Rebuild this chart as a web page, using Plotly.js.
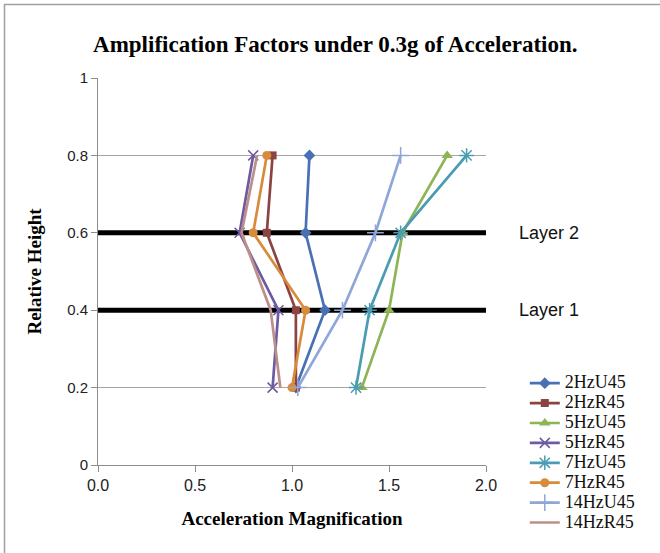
<!DOCTYPE html>
<html>
<head>
<meta charset="utf-8">
<script src="https://cdn.plot.ly/plotly-3.0.1.min.js"></script>
<style>
  html, body { margin: 0; padding: 0; background: #fff; }
  #chart { width: 660px; height: 553px; }
</style>
</head>
<body>
<div id="chart"></div>
<script>
// Relative height levels where the response was measured
const heights = [0.2, 0.4, 0.6, 0.8];

// Acceleration magnification per test case, one value per height level
const hz2U45  = [1.02, 1.17, 1.07, 1.09];
const hz2R45  = [1.02, 1.02, 0.87, 0.90];
const hz5U45  = [1.36, 1.50, 1.57, 1.80];
const hz5R45  = [0.90, 0.93, 0.73, 0.80];
const hz7U45  = [1.33, 1.40, 1.56, 1.90];
const hz7R45  = [1.00, 1.07, 0.80, 0.87];
const hz14U45 = [1.03, 1.26, 1.43, 1.56];
const hz14R45 = [0.94, 0.89, 0.74, 0.82];

const seriesNames = ['2HzU45', '2HzR45', '5HzU45', '5HzR45', '7HzU45', '7HzR45', '14HzU45', '14HzR45'];
const seriesValues = [hz2U45, hz2R45, hz5U45, hz5R45, hz7U45, hz7R45, hz14U45, hz14R45];

// Layer boundaries
const layerHeights = [0.4, 0.6];
const layerNames = ['Layer 1', 'Layer 2'];
const xSpan = [0, 2];

// Axis tick labels
const yTickVals = [0, 0.2, 0.4, 0.6, 0.8, 1];
const yTickText = ['0', '0.2', '0.4', '0.6', '0.8', '1'];
const xTickVals = [0, 0.5, 1, 1.5, 2];
const xTickText = ['0.0', '0.5', '1.0', '1.5', '2.0'];

const colors = ['#4a70b4', '#8c4442', '#8db455', '#6e5aa0', '#4b9cb3', '#d98b3c', '#8ea6d8', '#bc8f8b'];
const symbols = ['diamond', 'square', 'triangle-up', 'x-thin-open', 'asterisk-open', 'circle', 'cross-thin-open', 'circle'];
const sizes = [9, 8, 10, 10, 12, 9, 12, 0];

const serif = 'Liberation Serif, Times New Roman, serif';
const sans = 'Liberation Sans, Arial, sans-serif';

const traces = [];

// Thick black layer boundary lines, drawn beneath the series
layerHeights.forEach(h => {
  traces.push({
    x: xSpan, y: [h, h],
    mode: 'lines', line: { color: '#000', width: 5 },
    showlegend: false, hoverinfo: 'skip'
  });
});

seriesNames.forEach((name, i) => {
  const thin = symbols[i].indexOf('open') >= 0;
  traces.push({
    x: seriesValues[i], y: heights,
    // larger legend text while keeping the compact row spacing
    name: '<span style="font-size:18px">' + name + '</span>',
    mode: sizes[i] > 0 ? 'lines+markers' : 'lines',
    line: { color: colors[i], width: 2.7 },
    marker: {
      symbol: symbols[i], size: sizes[i], color: colors[i],
      line: { color: colors[i], width: thin ? 1.5 : 0 }
    }
  });
});

const annotations = layerNames.map((t, i) => ({
  text: t, xref: 'paper', yref: 'y', x: 1.08, y: layerHeights[i],
  xanchor: 'left', yanchor: 'middle', showarrow: false,
  font: { family: sans, size: 18, color: '#111' }
}));

const layout = {
  width: 660, height: 553,
  margin: { l: 98, r: 174, t: 78, b: 88, autoexpand: false },
  paper_bgcolor: '#fff', plot_bgcolor: '#fff',
  title: {
    text: '<b>Amplification Factors under 0.3g of Acceleration.</b>',
    xref: 'container', yref: 'container', x: 0.508, y: 1 - 44 / 553,
    xanchor: 'center', yanchor: 'middle',
    font: { family: serif, size: 23, color: '#000' }
  },
  xaxis: {
    range: xSpan, tickvals: xTickVals, ticktext: xTickText,
    showgrid: false, zeroline: false, showline: true, linecolor: '#8c8c8c', linewidth: 1,
    ticks: 'outside', ticklen: 6, tickwidth: 1, tickcolor: '#8c8c8c',
    tickfont: { family: sans, size: 16, color: '#222' },
    title: { text: '<b>Acceleration Magnification</b>', standoff: 18,
      font: { family: serif, size: 19, color: '#000' } }
  },
  yaxis: {
    range: [0, 1], tickvals: yTickVals, ticktext: yTickText,
    showgrid: true, gridcolor: '#a6a6a6', gridwidth: 1,
    zeroline: false, showline: true, linecolor: '#8c8c8c', linewidth: 1,
    ticks: 'outside', ticklen: 6, tickwidth: 1, tickcolor: '#8c8c8c',
    tickfont: { family: sans, size: 15, color: '#222' },
    title: { text: '<b>Relative Height</b>', standoff: 20,
      font: { family: serif, size: 19, color: '#000' } }
  },
  legend: {
    x: 1.10, y: 0.25, xanchor: 'left', yanchor: 'top',
    bgcolor: 'rgba(0,0,0,0)', borderwidth: 0,
    font: { family: serif, size: 13, color: '#111' },
    tracegroupgap: 0
  },
  annotations: annotations,
  shapes: [{
    // outer frame of the chart area
    type: 'rect', xref: 'paper', yref: 'paper',
    x0: (4.5 - 98) / 388, x1: (700 - 98) / 388,
    y0: (465 - 600) / 387, y1: (465 - 4.5) / 387,
    line: { color: '#a0a0a0', width: 1.5 }, fillcolor: 'rgba(0,0,0,0)'
  }],
  showlegend: true
};

Plotly.newPlot('chart', traces, layout, { displayModeBar: false, staticPlot: true });
</script>
</body>
</html>
